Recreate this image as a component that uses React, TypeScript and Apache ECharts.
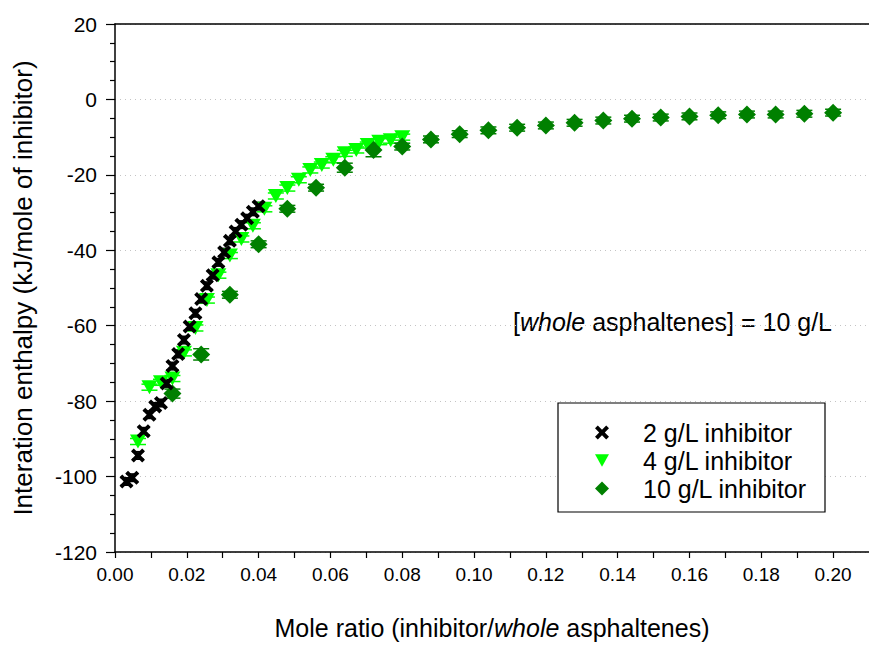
import React, { useEffect, useRef } from "react";
import * as echarts from "echarts";

// ---- data ----
const seriesNames = ["2 g/L inhibitor", "4 g/L inhibitor", "10 g/L inhibitor"];

const crossX = [0.0032, 0.0048, 0.0064, 0.0080, 0.0096, 0.0112, 0.0128, 0.0144, 0.0160, 0.0176, 0.0192, 0.0208,
  0.0224, 0.0240, 0.0256, 0.0272, 0.0288, 0.0304, 0.0320, 0.0336, 0.0352, 0.0368, 0.0384, 0.0400];
const crossY = [-101.3, -100.3, -94.4, -88.0, -83.6, -81.4, -80.5, -75.3, -70.7, -67.5, -63.8, -60.2,
  -56.7, -52.9, -49.4, -46.6, -43.2, -40.5, -37.5, -35.0, -33.2, -31.5, -29.8, -28.3];
const crossErr = [1.0, 1.0, 1.0, 1.0, 1.0, 1.0, 1.0, 1.0, 1.0, 1.0, 1.0, 1.0,
  1.0, 1.0, 1.0, 1.0, 1.0, 1.0, 1.0, 1.0, 1.0, 1.0, 1.0, 1.0];

const triX = [0.0064, 0.0096, 0.0128, 0.0160, 0.0192, 0.0224, 0.0256, 0.0288, 0.0320, 0.0352, 0.0384, 0.0416,
  0.0448, 0.0480, 0.0512, 0.0544, 0.0576, 0.0608, 0.0640, 0.0672, 0.0704, 0.0736, 0.0768, 0.0800];
const triY = [-90.7, -76.3, -75.0, -74.0, -67.2, -60.6, -53.2, -46.6, -41.4, -37.0, -33.5, -29.0,
  -25.6, -23.5, -21.3, -18.7, -17.4, -16.0, -14.3, -13.4, -12.1, -11.2, -10.8, -10.0];
const triErr = [0.8, 0.8, 0.8, 0.8, 0.8, 0.8, 0.8, 0.8, 0.8, 0.8, 0.8, 0.8,
  0.8, 0.8, 0.8, 0.8, 0.8, 0.8, 0.8, 0.8, 0.8, 0.8, 0.8, 0.8];

const diaX = [0.016, 0.024, 0.032, 0.040, 0.048, 0.056, 0.064, 0.072, 0.080, 0.088, 0.096, 0.104,
  0.112, 0.120, 0.128, 0.136, 0.144, 0.152, 0.160, 0.168, 0.176, 0.184, 0.192, 0.200];
const diaY = [-78.0, -67.6, -51.8, -38.4, -29.0, -23.4, -18.1, -13.4, -12.5, -10.6, -9.2, -8.2,
  -7.5, -6.9, -6.2, -5.6, -5.1, -4.8, -4.5, -4.2, -4.0, -4.0, -3.8, -3.5];
const diaErr = [1.2, 1.5, 0.9, 0.9, 0.9, 0.9, 1.2, 1.8, 0.9, 0.9, 0.9, 0.9,
  0.9, 0.9, 0.9, 0.9, 0.9, 0.9, 0.9, 0.9, 0.9, 0.9, 0.9, 0.9];

const xTickLabels = ["0.00", "0.02", "0.04", "0.06", "0.08", "0.10", "0.12", "0.14", "0.16", "0.18", "0.20"];
const yTickLabels = ["-120", "-100", "-80", "-60", "-40", "-20", "0", "20"];

const colors = ["#000000", "#00ff00", "#008000"];

const FONT = "'Liberation Sans', Arial, sans-serif";

const CROSS = "path://M0,2L2,0L5,3L8,0L10,2L7,5L10,8L8,10L5,7L2,10L0,8L3,5Z";
const TRI_DOWN = "path://M0,0L10,0L5,9Z";

function zip3(a: number[], b: number[], c: number[]) {
  return a.map((v, i) => [v, b[i], c[i]]);
}

function errorSeries(name: string, data: number[][], color: string, capHalf: number) {
  return {
    type: "custom",
    name,
    silent: true,
    data,
    renderItem: (params: any, api: any) => {
      const x = api.value(0);
      const y = api.value(1);
      const e = api.value(2);
      const top = api.coord([x, y + e]);
      const bot = api.coord([x, y - e]);
      const st = { stroke: color, lineWidth: 1.5 };
      return {
        type: "group",
        children: [
          { type: "line", shape: { x1: top[0], y1: top[1], x2: bot[0], y2: bot[1] }, style: st },
          { type: "line", shape: { x1: top[0] - capHalf, y1: top[1], x2: top[0] + capHalf, y2: top[1] }, style: st },
          { type: "line", shape: { x1: bot[0] - capHalf, y1: bot[1], x2: bot[0] + capHalf, y2: bot[1] }, style: st },
        ],
      };
    },
  };
}

export default function App() {
  const ref = useRef<HTMLDivElement>(null);

  useEffect(() => {
    if (!ref.current) return;
    const chart = echarts.init(ref.current, undefined, { renderer: "svg" });

    const xLabelFmt = (v: number) => {
      const k = Math.round(v * 100);
      if (k % 2 !== 0) return "";
      return xTickLabels[k / 2] ?? "";
    };
    const yLabelFmt = (v: number) => {
      const idx = Math.round((v + 120) / 20);
      return yTickLabels[idx] ?? "";
    };

    const option: any = {
      animation: false,
      backgroundColor: "#ffffff",
      grid: { left: 115, right: -7, top: 24, bottom: 87, containLabel: false },
      xAxis: [
        {
          type: "value",
          min: 0,
          max: 0.21,
          interval: 0.01,
          position: "bottom",
          axisLine: { show: true, onZero: false, lineStyle: { color: "#000", width: 1.5 } },
          axisTick: { show: true, inside: false, length: 6, lineStyle: { color: "#000", width: 1.2 } },
          axisLabel: {
            formatter: xLabelFmt,
            margin: 13,
            color: "#000",
            fontFamily: FONT,
            fontSize: 19,
            showMaxLabel: false,
          },
          splitLine: { show: false },
          name: "Mole ratio (inhibitor/{i|whole} asphaltenes)",
          nameLocation: "middle",
          nameGap: 63,
          nameTextStyle: {
            color: "#000",
            fontFamily: FONT,
            fontSize: 25,
            rich: { i: { fontStyle: "italic", fontFamily: FONT, fontSize: 25, color: "#000" } },
          },
        },
        {
          type: "value",
          min: 0,
          max: 0.21,
          interval: 0.01,
          position: "top",
          axisLine: { show: true, onZero: false, lineStyle: { color: "#000", width: 1.5 } },
          axisTick: { show: false },
          axisLabel: { show: false },
          splitLine: { show: false },
        },
      ],
      yAxis: {
        type: "value",
        min: -120,
        max: 20,
        interval: 20,
        axisLine: { show: true, onZero: false, lineStyle: { color: "#000", width: 1.5 } },
        axisTick: { show: true, inside: false, length: 9, lineStyle: { color: "#000", width: 1.2 } },
        minorTick: { show: true, splitNumber: 4, length: 5, lineStyle: { color: "#000", width: 1.2 } },
        axisLabel: { formatter: yLabelFmt, margin: 18, color: "#000", fontFamily: FONT, fontSize: 21 },
        splitLine: { show: true, lineStyle: { color: "#c4c4c4", type: [1, 4], width: 1 } },
        name: "Interation enthalpy (kJ/mole of inhibitor)",
        nameLocation: "middle",
        nameGap: 79,
        nameTextStyle: { color: "#000", fontFamily: FONT, fontSize: 26 },
      },
      legend: {
        data: [
          { name: seriesNames[0], icon: CROSS },
          { name: seriesNames[1], icon: TRI_DOWN },
          { name: seriesNames[2], icon: "diamond" },
        ],
        orient: "vertical",
        left: 558,
        top: 403,
        itemWidth: 14,
        itemHeight: 14,
        itemGap: 3,
        padding: [17, 18, 11, 37],
        borderColor: "#000",
        borderWidth: 1.2,
        backgroundColor: "#fff",
        selectedMode: false,
        textStyle: { color: "#000", fontFamily: FONT, fontSize: 25, padding: [0, 0, 0, 29] },
      },
      graphic: [
        {
          type: "text",
          left: 513,
          top: 309,
          style: {
            text: "[{i|whole} asphaltenes] = 10 g/L",
            fill: "#000",
            fontFamily: FONT,
            fontSize: 25,
            rich: { i: { fontStyle: "italic", fontFamily: FONT, fontSize: 25, fill: "#000" } },
          },
        },
      ],
      series: [
        errorSeries("err4", zip3(triX, triY, triErr), colors[1], 8),
        {
          type: "scatter",
          name: seriesNames[1],
          data: triX.map((x, i) => [x, triY[i]]),
          symbol: TRI_DOWN,
          symbolSize: [16, 14],
          itemStyle: { color: colors[1], opacity: 1 },
        },
        errorSeries("err10", zip3(diaX, diaY, diaErr), colors[2], 8),
        {
          type: "scatter",
          name: seriesNames[2],
          data: diaX.map((x, i) => [x, diaY[i]]),
          symbol: "diamond",
          symbolSize: 18,
          itemStyle: { color: colors[2], opacity: 1 },
        },
        errorSeries("err2", zip3(crossX, crossY, crossErr), colors[0], 6),
        {
          type: "scatter",
          name: seriesNames[0],
          data: crossX.map((x, i) => [x, crossY[i]]),
          symbol: CROSS,
          symbolSize: 14,
          itemStyle: { color: colors[0], opacity: 1 },
        },
      ],
    };

    chart.setOption(option);
    return () => chart.dispose();
  }, []);

  return (
    <div
      ref={ref}
      style={{ position: "fixed", left: 0, top: 0, width: 869, height: 645, background: "#fff" }}
    />
  );
}
